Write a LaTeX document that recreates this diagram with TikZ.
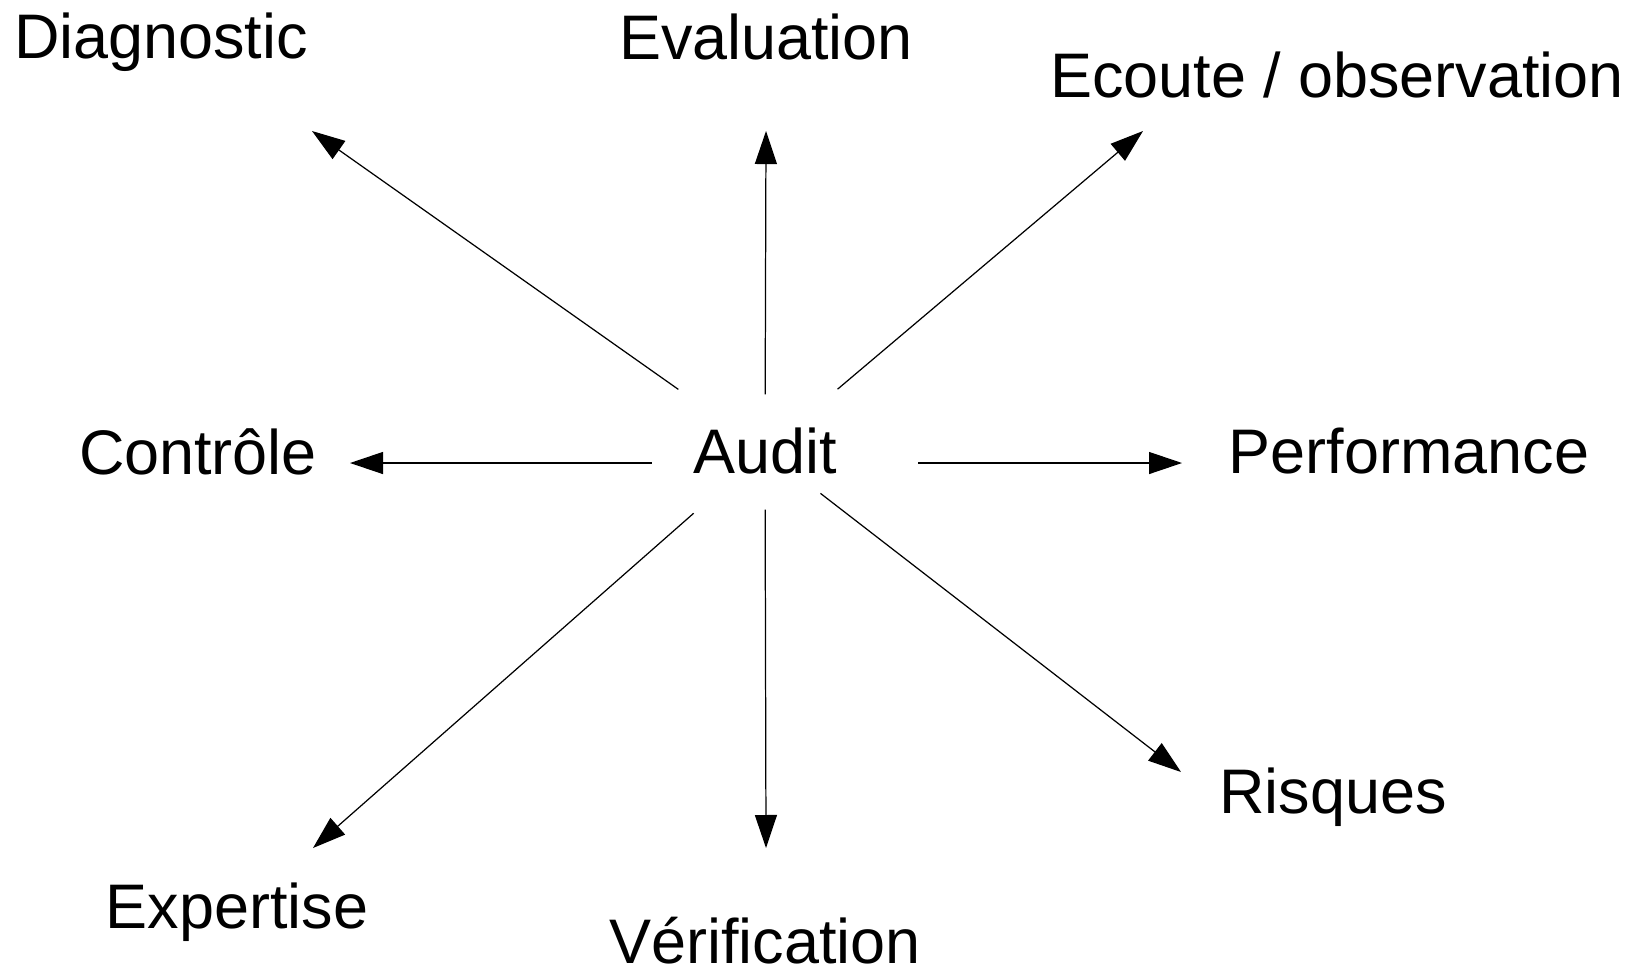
\documentclass[tikz,border=0pt]{standalone}
\usepackage{fontspec}
\setmainfont{Liberation Sans}
\usetikzlibrary{arrows.meta}

\begin{document}
\begin{tikzpicture}[x=0.01cm, y=-0.01cm,
  lbl/.style={anchor=base, inner sep=0pt, font=\fontsize{17.9}{20}\selectfont},
  arr/.style={-{Triangle[length=3.3mm, width=2.2mm]}, line width=0.35pt}]
\useasboundingbox (0,0) rectangle (1649,969);

\node[lbl] (A) at ( 765, 473) {Audit};
\node[lbl] (D) at ( 161,  58) {Diagnostic};
\node[lbl] (E) at ( 766,  59) {Evaluation};
\node[lbl] (O) at (1337,  97) {Ecoute / observation};
\node[lbl] (C) at ( 198, 474) {Contrôle};
\node[lbl] (P) at (1409, 473) {Performance};
\node[lbl] (R) at (1333, 813) {Risques};
\node[lbl] (X) at ( 237, 928) {Expertise};
\node[lbl] (V) at ( 765, 963) {Vérification};

\coordinate (tD) at ( 312, 131);
\coordinate (tE) at ( 766, 131);
\coordinate (tO) at (1143, 131);
\coordinate (tC) at ( 350, 463);
\coordinate (tP) at (1182, 463);
\coordinate (tR) at (1181, 772);
\coordinate (tV) at ( 766, 848);
\coordinate (tX) at ( 313, 848);

\path[arr] (A.center) edge[shorten <=1.06cm] (tD);
\path[arr] (A.center) edge[shorten <=0.56cm] (tE);
\path[arr] (A.center) edge[shorten <=0.95cm] (tO);
\path[arr] (tC -| A.center) edge[shorten <=1.13cm] (tC);
\path[arr] (tP -| A.center) edge[shorten <=1.53cm] (tP);
\path[arr] (A.center) edge[shorten <=0.70cm] (tR);
\path[arr] (A.center) edge[shorten <=0.59cm] (tV);
\path[arr] (A.center) edge[shorten <=0.95cm] (tX);
\end{tikzpicture}
\end{document}
